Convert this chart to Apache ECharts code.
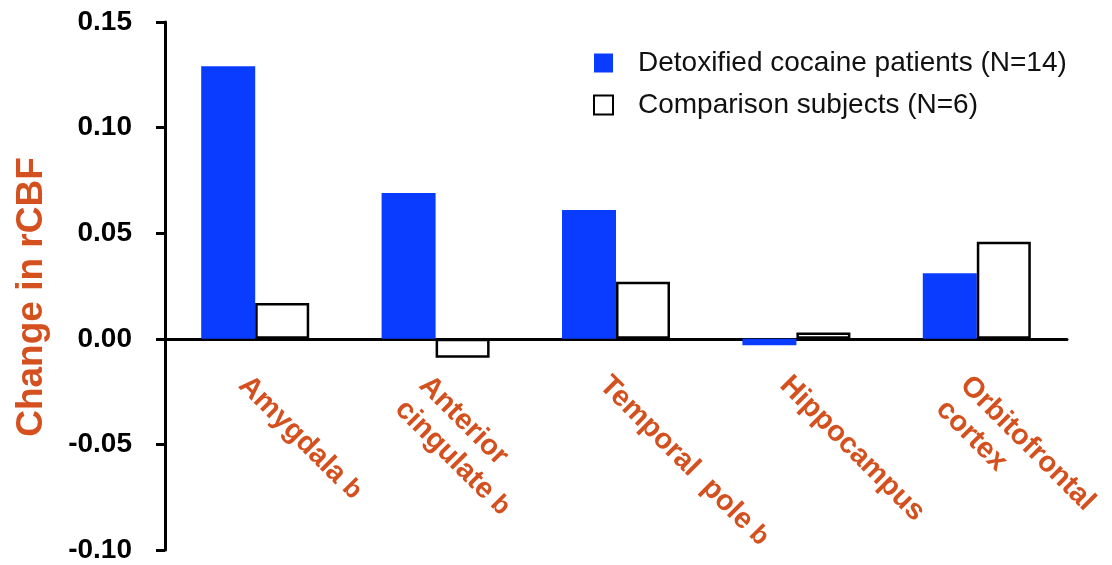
<!DOCTYPE html>
<html>
<head>
<meta charset="utf-8">
<script src="https://cdn.jsdelivr.net/npm/echarts@6/dist/echarts.min.js"></script>
<style>
html,body{margin:0;padding:0;background:#fff;}
#chart{width:1112px;height:565px;}
</style>
</head>
<body>
<div id="chart"></div>
<script>
var categories = ['Amygdala', 'Anterior\ncingulate', 'Temporal  pole', 'Hippocampus', 'Orbitofrontal\ncortex'];
var superscripts = ['b', 'b', 'b', '', ''];
var cocaineValues = [0.129, 0.069, 0.061, -0.003, 0.031];
var comparisonValues = [0.017, -0.009, 0.027, 0.003, 0.046];
var seriesNames = ['Detoxified cocaine patients (N=14)', 'Comparison subjects (N=6)'];
var yTicks = { min: -0.10, max: 0.15, interval: 0.05 };
var yAxisTitle = 'Change in rCBF';

var orange = '#d4501e';
var blue = '#0a3cff';
var font = '"Liberation Sans", Arial, Helvetica, sans-serif';

var W = 1112, H = 565;
var grid = { left: 165, right: 45, top: 22, bottom: 15 };
var gridHeight = H - grid.top - grid.bottom;
// move the category axis (line + labels) up to the zero value of the y scale
var zeroOffset = -gridHeight * (0 - yTicks.min) / (yTicks.max - yTicks.min);

var chart = echarts.init(document.getElementById('chart'), null, {renderer: 'canvas'});
chart.setOption({
  animation: false,
  backgroundColor: '#ffffff',
  grid: { left: grid.left, right: grid.right, top: grid.top, bottom: grid.bottom, containLabel: false, outerBoundsMode: 'none' },
  legend: {
    orient: 'vertical',
    left: 588,
    top: 44,
    itemWidth: 19,
    itemHeight: 19,
    itemGap: 14,
    icon: 'rect',
    textStyle: { fontFamily: font, fontSize: 28, color: '#111', padding: [0, 0, 0, 20] },
    data: seriesNames
  },
  xAxis: {
    type: 'category',
    data: categories,
    position: 'bottom',
    offset: zeroOffset,
    axisLine: { onZero: false, lineStyle: { color: '#000', width: 3 } },
    axisTick: { show: false },
    axisLabel: {
      show: true,
      interval: 0,
      rotate: -45,
      margin: 30,
      align: 'left',
      verticalAlign: 'top',
      formatter: function (v, i) {
        var lines = v.split('\n');
        var out = lines.map(function (l) { return '{n|' + l + '}'; });
        if (superscripts[i]) out[out.length - 1] += '{s| ' + superscripts[i] + '}';
        return out.join('\n');
      },
      rich: {
        n: { fontFamily: font, fontWeight: 'bold', fontSize: 29, color: orange, lineHeight: 34 },
        s: { fontFamily: font, fontWeight: 'bold', fontSize: 26, color: orange, lineHeight: 34 }
      }
    },
    splitLine: { show: false }
  },
  yAxis: {
    type: 'value',
    min: yTicks.min,
    max: yTicks.max,
    interval: yTicks.interval,
    name: yAxisTitle,
    nameLocation: 'middle',
    nameRotate: 90,
    nameGap: 115,
    nameTextStyle: { fontFamily: font, fontWeight: 'bold', fontSize: 37, color: orange, padding: [0, 22, 0, 0] },
    axisLine: { show: true, lineStyle: { color: '#000', width: 3 } },
    axisTick: { show: true, inside: false, length: 9, lineStyle: { color: '#000', width: 3 } },
    axisLabel: {
      margin: 33,
      fontFamily: font, fontWeight: 'bold', fontSize: 28, color: '#000',
      formatter: function (v) { return v.toFixed(2); }
    },
    splitLine: { show: false }
  },
  series: [
    {
      name: seriesNames[0],
      type: 'bar',
      data: cocaineValues,
      barWidth: 54,
      barGap: '0%',
      itemStyle: { color: blue }
    },
    {
      name: seriesNames[1],
      type: 'bar',
      data: comparisonValues,
      barWidth: 54,
      barGap: '0%',
      itemStyle: { color: '#ffffff', borderColor: '#000', borderWidth: 2.5 }
    }
  ]
});
</script>
</body>
</html>
